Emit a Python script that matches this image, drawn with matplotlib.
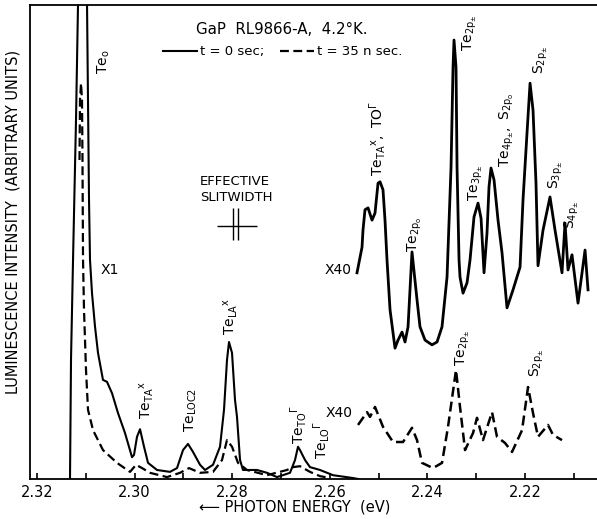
import matplotlib
matplotlib.use("Agg")
import matplotlib.pyplot as plt
from matplotlib.ticker import MultipleLocator, FormatStrFormatter

plt.rcParams['font.family'] = ['DejaVu Sans']
plt.rcParams['mathtext.fontset'] = 'dejavusans'

# t = 0 sec, X1 (energy eV, intensity arb.)
e_x1 = [2.31324, 2.31303, 2.31262, 2.31201, 2.31160, 2.31078, 2.30975, 2.30955,
        2.30934, 2.30914, 2.30873, 2.30811, 2.30750, 2.30648, 2.30566, 2.30463,
        2.30340, 2.30197, 2.30053, 2.30012, 2.29951, 2.29889, 2.29807, 2.29725,
        2.29541, 2.29275, 2.29131, 2.29008, 2.28906, 2.28803, 2.28660, 2.28557,
        2.28393, 2.28250, 2.28168, 2.28107, 2.28066, 2.28004, 2.27943, 2.27902,
        2.27840, 2.27779, 2.27492, 2.27287, 2.27082, 2.26816, 2.26713, 2.26652,
        2.26611, 2.26508, 2.26406, 2.26201, 2.25934, 2.25525, 2.25422]
i_x1 = [0.0, 25.3, 46.2, 75.7, 100.0, 190.0, 100.0, 79.7,
        58.6, 46.2, 39.2, 32.1, 26.6, 20.9, 20.5, 18.1,
        13.9, 9.7, 4.6, 5.1, 8.9, 10.5, 6.8, 3.4,
        1.9, 1.5, 2.3, 6.1, 7.4, 5.7, 3.0, 1.9,
        3.0, 6.8, 14.6, 25.1, 28.9, 26.6, 16.7, 13.1,
        4.0, 1.9, 1.9, 1.3, 0.4, 1.3, 4.0, 6.8,
        6.1, 4.0, 2.5, 1.9, 0.8, 0.2, 0.0]

# t = 35 nsec, X1
e_d1 = [2.31129, 2.31119, 2.31098, 2.31078, 2.31068, 2.31057, 2.31037, 2.30996,
        2.30955, 2.30852, 2.30648, 2.30361, 2.30094, 2.29971, 2.29848, 2.29684,
        2.29336, 2.29070, 2.28885, 2.28660, 2.28393, 2.28209, 2.28107, 2.28004,
        2.27881, 2.27697, 2.27287, 2.26877, 2.26754, 2.26611, 2.26406, 2.26201,
        2.25996]
i_d1 = [67.3, 80.0, 83.5, 80.0, 67.3, 46.2, 35.7, 23.0,
        14.6, 10.3, 6.1, 3.4, 1.5, 3.0, 2.3, 1.3,
        0.4, 1.3, 2.3, 1.3, 1.5, 4.0, 8.2, 6.8,
        3.4, 1.9, 0.8, 1.9, 2.5, 2.7, 1.5, 0.6,
        0.2]

# t = 0 sec, X40 (offset trace)
e_x40 = [2.25443, 2.25340, 2.25320, 2.25279, 2.25217, 2.25135, 2.25074, 2.25012,
         2.24971, 2.24910, 2.24869, 2.24828, 2.24766, 2.24664, 2.24602, 2.24520,
         2.24459, 2.24397, 2.24316, 2.24213, 2.24152, 2.24049, 2.23906, 2.23803,
         2.23701, 2.23598, 2.23516, 2.23475, 2.23455, 2.23414, 2.23393, 2.23352,
         2.23332, 2.23270, 2.23188, 2.23127, 2.23045, 2.22963, 2.22901, 2.22840,
         2.22779, 2.22738, 2.22697, 2.22635, 2.22553, 2.22471, 2.22369, 2.22246,
         2.22102, 2.22041, 2.21959, 2.21897, 2.21836, 2.21775, 2.21734, 2.21631,
         2.21488, 2.21385, 2.21242, 2.21180, 2.21119, 2.21037, 2.20914, 2.20770,
         2.20709]
i_x40 = [43.5, 48.9, 52.5, 56.8, 57.2, 54.6, 56.1, 62.4,
         62.7, 61.0, 54.6, 46.2, 35.7, 27.6, 29.3, 31.0,
         28.9, 32.1, 47.9, 37.8, 32.1, 29.3, 28.3, 28.9,
         32.1, 42.6, 65.8, 86.9, 92.6, 86.9, 65.8, 46.2,
         42.6, 39.2, 41.4, 46.2, 55.3, 58.2, 55.0, 43.5,
         51.9, 61.6, 65.6, 63.1, 54.6, 47.7, 36.1, 39.9,
         44.7, 58.9, 73.0, 83.5, 77.8, 62.4, 45.0, 52.5,
         59.5, 52.5, 43.5, 54.0, 44.1, 47.3, 37.1, 48.3,
         39.9]

# t = 35 nsec, X40
e_d40 = [2.25422, 2.25238, 2.25176, 2.25074, 2.24910, 2.24705, 2.24500, 2.24316,
         2.24213, 2.24111, 2.23885, 2.23701, 2.23578, 2.23414, 2.23332, 2.23229,
         2.23065, 2.22984, 2.22861, 2.22676, 2.22574, 2.22410, 2.22266, 2.22061,
         2.21938, 2.21836, 2.21734, 2.21529, 2.21426, 2.21242]
i_d40 = [11.4, 14.1, 13.1, 15.2, 11.0, 7.8, 7.8, 10.8,
         8.2, 3.4, 2.3, 3.4, 11.0, 23.0, 15.2, 6.1,
         9.7, 12.9, 8.2, 14.1, 8.9, 7.6, 5.7, 10.3,
         19.4, 13.9, 8.9, 11.4, 9.3, 8.2]

# peak labels: (text, energy, intensity)
labels = [
    (r'$\mathrm{Te}_{\mathrm{o}}$', 2.30627, 88.0),
    (r'$\mathrm{Te}_{\mathrm{TA}}{}^{\mathrm{x}}$', 2.29746, 16.7),
    (r'$\mathrm{Te}_{\mathrm{LOC2}}$', 2.28844, 14.6),
    (r'$\mathrm{Te}_{\mathrm{LA}}{}^{\mathrm{x}}$', 2.28025, 34.4),
    (r'$\mathrm{Te}_{\mathrm{TO}}{}^{\Gamma}$', 2.26651, 11.4),
    (r'$\mathrm{Te}_{\mathrm{LO}}{}^{\Gamma}$', 2.26180, 8.2),
    (r'$\mathrm{Te}_{\mathrm{TA}}{}^{\mathrm{x}}\mathrm{,\ TO}^{\Gamma}$', 2.25033, 71.9),
    (r'$\mathrm{Te}_{\mathrm{2p_o}}$', 2.24254, 51.7),
    (r'$\mathrm{Te}_{\mathrm{2p}_{\pm}}$', 2.23127, 94.1),
    (r'$\mathrm{Te}_{\mathrm{3p}_{\pm}}$', 2.23004, 62.4),
    (r'$\mathrm{Te}_{\mathrm{4p}_{\pm}}\mathrm{,\ S}_{\mathrm{2p_o}}$', 2.22369, 73.6),
    (r'$\mathrm{S}_{\mathrm{2p}_{\pm}}$', 2.21672, 88.4),
    (r'$\mathrm{S}_{\mathrm{3p}_{\pm}}$', 2.21365, 64.1),
    (r'$\mathrm{S}_{\mathrm{4p}_{\pm}}$', 2.21037, 55.7),
    (r'$\mathrm{Te}_{\mathrm{2p}_{\pm}}$', 2.23270, 27.6),
    (r'$\mathrm{S}_{\mathrm{2p}_{\pm}}$', 2.21754, 24.5),
]
scale_labels = [('X1', 2.30504, 44.1), ('X40', 2.25832, 44.1), ('X40', 2.25811, 13.9)]

slit_e = 2.27932
slit_w = 0.00103
slit_i = 53.4

fig = plt.figure(figsize=(5.97, 5.19), dpi=100)
ax = fig.add_axes([0.0503, 0.0771, 0.9497, 0.9133])

ax.plot(e_x1, i_x1, color='black', lw=1.5, label='t = 0 sec;')
ax.plot(e_d1, i_d1, color='black', lw=1.6, ls=(0, (4, 2)), label='t = 35 n sec.')
ax.plot(e_x40, i_x40, color='black', lw=2.0)
ax.plot(e_d40, i_d40, color='black', lw=1.8, ls=(0, (4, 2)))

for txt, e, i in labels:
    ax.text(e, i, txt, rotation=90, ha='center', va='center', fontsize=10)
for txt, e, i in scale_labels:
    ax.text(e, i, txt, ha='center', va='center', fontsize=10)

# effective slitwidth marker
ax.vlines([slit_e + slit_w / 2, slit_e - slit_w / 2], slit_i - 3.0, slit_i + 3.8,
          color='black', lw=1.0)
ax.hlines(slit_i, slit_e + 0.0038, slit_e - 0.0044, color='black', lw=1.0)
ax.text(0.3616, 0.627, 'EFFECTIVE', transform=ax.transAxes, ha='center',
        va='center', fontsize=9.5)
ax.text(0.3634, 0.593, 'SLITWIDTH', transform=ax.transAxes, ha='center',
        va='center', fontsize=9.5)

ax.text(0.444, 0.948, 'GaP  RL9866-A,  4.2°K.', transform=ax.transAxes,
        ha='center', va='center', fontsize=10.8)
ax.legend(loc='center', bbox_to_anchor=(0.445, 0.901), ncol=2, frameon=False,
          handlelength=2.6, handletextpad=0.2, columnspacing=1.2, fontsize=9.5,
          borderpad=0, borderaxespad=0)

ax.set_xlim(2.32143, 2.20525)
ax.set_ylim(0, 100)
ax.xaxis.set_major_locator(MultipleLocator(0.02))
ax.xaxis.set_minor_locator(MultipleLocator(0.01))
ax.xaxis.set_major_formatter(FormatStrFormatter('%.2f'))
ax.tick_params(axis='x', which='both', direction='in', length=4, width=1.2,
               labelsize=10.5, pad=4)
ax.set_yticks([])
ax.spines['right'].set_visible(False)
for s in ['left', 'bottom', 'top']:
    ax.spines[s].set_linewidth(1.3)

ax.set_xlabel('\u27f5 PHOTON ENERGY  (eV)', fontsize=10.5)
ax.xaxis.set_label_coords(0.467, -0.043)
ax.set_ylabel('LUMINESCENCE INTENSITY  (ARBITRARY UNITS)', fontsize=10.5)
ax.yaxis.set_label_coords(-0.017, 0.542)

fig.savefig('out.png', dpi=100)
